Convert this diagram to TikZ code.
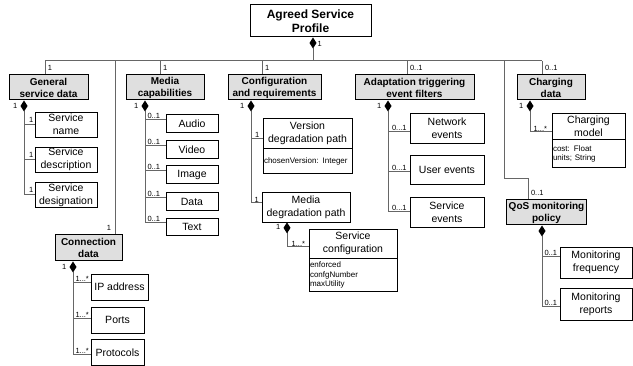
\documentclass[tikz,border=0pt]{standalone}
\usepackage{fontspec}
\setmainfont{Liberation Sans}
\usetikzlibrary{arrows.meta}
\tikzset{
	cls/.style={draw,line width=0.7pt,inner sep=1pt,align=center,font=\fontsize{10.5}{13}\selectfont},
	pkg/.style={draw,line width=1pt,fill=gray!25,inner sep=1pt,align=center,font=\bfseries\fontsize{10}{12}\selectfont},
	attr/.style={draw,line width=0.7pt,anchor=north,inner sep=1pt,align=left,font=\fontsize{8}{9.5}\selectfont},
	mult/.style={inner sep=0.5pt,font=\fontsize{7.5}{8}\selectfont},
	lnk/.style={draw=black!60,line width=1pt},
	comp/.style={lnk,arrows={Diamond[length=11pt,width=7pt,color=black]-}}
}
\begin{document}
\begin{tikzpicture}[x=1pt,y=-1pt]
		\useasboundingbox (0,0) rectangle (633,366);
		\node[cls,line width=1pt,font=\bfseries\fontsize{12}{14}\selectfont,minimum width=121,minimum height=32] (asp) at (310.5,21) {Agreed Service\\Profile};
		\foreach \n/\x/\w/\t in {gen/48.5/79/{General\\service data},media/165/78/{Media\\capabilities},
			conf/274.5/93/{Configuration\\and requirements},adapt/414.5/119/{Adaptation triggering\\event filters},charg/551/68/{Charging\\data}}{
			\node[pkg,minimum width=\w,minimum height=25] (\n) at (\x,87.5) {\t};
		}
		\node[pkg,minimum width=67,minimum height=26] (conn) at (88.5,248) {Connection\\data};
		\node[pkg,minimum width=80,minimum height=25] (qos) at (546.5,212.5) {QoS monitoring\\policy};
		\path ([xshift=2.5]asp.south) coordinate (tpd)
			(313,61) coordinate (bus)
			(504,61) coordinate (b-qos)
			\foreach \n/\x in {gen/45,conn/115,media/160,conf/262,adapt/407,charg/542}{(\x,61) coordinate (b-\n)};
		\draw[comp] (tpd) -- (bus);
		\node[mult,anchor=west] at ([xshift=4,yshift=-6]tpd) {1};
		\draw[lnk] (b-gen) -- (b-charg);
		\foreach \n/\t in {gen/1,media/1,conf/1,adapt/0..1,charg/0..1}{
			\draw[lnk] (b-\n) -- (b-\n |- \n.north) node[mult,anchor=south west,xshift=2,yshift=3]{\t};
		}
		\draw[lnk] (b-conn) -- (b-conn |- conn.north) node[mult,anchor=south east,xshift=-3,yshift=3]{1};
		\draw[lnk] (b-qos) -- ++(0,118) -| ([xshift=-18.5]qos.north) node[mult,anchor=south west,xshift=2,yshift=3]{0..1};
		% general service data
		\path ([xshift=-24.5]gen.south) coordinate (gd);
		\foreach \n/\y/\t in {gsn/124.5/{Service\\name},gsd/159.5/{Service\\description},gsg/195/{Service\\designation}}{
			\node[cls,minimum width=62,minimum height=25] (\n) at (66,\y) {\t};
			\draw[lnk] (gd |- \n.west) -- (\n.west) node[mult,pos=0,anchor=south west,xshift=4,yshift=1]{1};
		}
		\draw[comp] (gd) -- (gd |- gsg.west);
		\node[mult,anchor=east] at ([xshift=-6,yshift=-5]gd) {1};
		% media capabilities
		\path ([xshift=-20]media.south) coordinate (md);
		\foreach \n/\y/\t in {aud/123.5/Audio,vid/149.5/Video,img/174.5/Image,dat/201.5/Data,txt/227/Text}{
			\node[cls,minimum width=52,minimum height=17.5] (\n) at (192,\y) {\t};
			\path ([yshift=4]\n.west) coordinate (\n-w);
			\draw[lnk] (md |- \n-w) -- (\n-w) node[mult,pos=0,anchor=south west,xshift=1.5]{0..1};
		}
		\draw[comp] (md) -- (md |- txt-w);
		\node[mult,anchor=east] at ([xshift=-6,yshift=-5]md) {1};
		% configuration and requirements
		\node[cls,minimum width=89,minimum height=30] (vdp) at (307.5,133) {Version\\degradation path};
		\node[attr,minimum width=89,minimum height=25,text width=87] (vdpa) at (vdp.south) {\mbox{chosenVersion: Integer}};
		\node[cls,minimum width=88,minimum height=30] (mdp) at (306,207) {Media\\degradation path};
		\node[cls,minimum width=88,minimum height=29] (sc) at (353,243.5) {Service\\configuration};
		\node[attr,minimum width=88,minimum height=33,text width=86] (sca) at (sc.south) {enforced\\confgNumber\\maxUtility};
		\path ([xshift=-23.5]conf.south) coordinate (cd)
			([yshift=-6]vdp.west) coordinate (vdp-w)
			([yshift=4]mdp.west) coordinate (mdp-w)
			([xshift=-19]mdp.south) coordinate (mdd)
			([yshift=-3.5]sc.west) coordinate (sc-w);
		\draw[lnk] (cd |- vdp-w) -- (vdp-w) node[mult,pos=0,anchor=south west,xshift=3]{1};
		\draw[comp] (cd) |- (mdp-w);
		\node[mult,anchor=south west,xshift=3] at (cd |- mdp-w) {1};
		\node[mult,anchor=east] at ([xshift=-6,yshift=-5]cd) {1};
		\draw[comp] (mdd) |- (sc-w);
		\node[mult,anchor=south west,xshift=4] at (mdd |- sc-w) {1...*};
		\node[mult,anchor=east] at ([xshift=-6,yshift=-5]mdd) {1};
		% adaptation triggering event filters
		\path ([xshift=-26.5]adapt.south) coordinate (ad);
		\foreach \n/\y/\h/\dy/\t in {net/128/30/-4/{Network\\events},usr/169.5/29/-2/{User events},sev/212/30/0/{Service\\events}}{
			\node[cls,minimum width=74,minimum height=\h] (\n) at (447,\y) {\t};
			\path ([yshift=\dy]\n.west) coordinate (\n-w);
			\draw[lnk] (ad |- \n-w) -- (\n-w) node[mult,pos=0,anchor=south west,xshift=3]{0...1};
		}
		\draw[comp] (ad) -- (ad |- sev-w);
		\node[mult,anchor=east] at ([xshift=-6,yshift=-5]ad) {1};
		% charging data
		\node[cls,minimum width=73,minimum height=26] (cm) at (588.5,126) {Charging\\model};
		\node[attr,minimum width=73,minimum height=28,text width=71] (cma) at (cm.south) {cost: Float\\units; String};
		\path ([xshift=-21]charg.south) coordinate (chd)
			([yshift=-6]cm.west) coordinate (cm-w);
		\draw[comp] (chd) |- (cm-w);
		\node[mult,anchor=south west,xshift=3] at (chd |- cm-w) {1...*};
		\node[mult,anchor=east] at ([xshift=-6,yshift=-5]chd) {1};
		% qos monitoring policy
		\path ([xshift=-4.5]qos.south) coordinate (qd);
		\foreach \n/\y/\h/\dy/\t in {mf/262.5/31/5.5/{Monitoring\\frequency},mr/304/32/-3/{Monitoring\\reports}}{
			\node[cls,minimum width=72,minimum height=\h] (\n) at (596,\y) {\t};
			\path ([yshift=\dy]\n.west) coordinate (\n-w);
			\draw[lnk] (qd |- \n-w) -- (\n-w) node[mult,pos=0,anchor=south west,xshift=1.5]{0..1};
		}
		\draw[comp] (qd) -- (qd |- mr-w);
		% connection data
		\path ([xshift=-15.5]conn.south) coordinate (cnd);
		\foreach \n/\x/\w/\y/\dy/\t in {ip/119.5/57/287/4/IP address,prt/117.5/53/320/1/Ports,pro/117.5/53/352.5/-2/Protocols}{
			\node[cls,minimum width=\w,minimum height=26] (\n) at (\x,\y) {\t};
			\path ([yshift=\dy]\n.west) coordinate (\n-w);
			\draw[lnk] (cnd |- \n-w) -- (\n-w) node[mult,pos=0,anchor=south west,xshift=1.5]{1...*};
		}
		\draw[comp] (cnd) -- (cnd |- pro-w);
		\node[mult,anchor=east] at ([xshift=-6,yshift=-5]cnd) {1};
\end{tikzpicture}
\end{document}
